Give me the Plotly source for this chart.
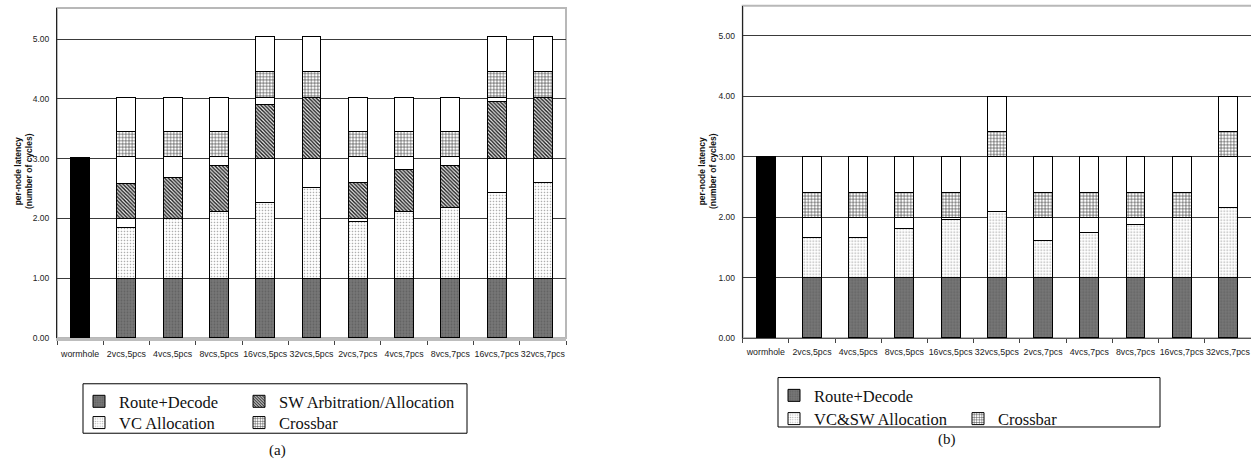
import plotly.graph_objects as go

W, H = 1251, 459

categories = ["wormhole", "2vcs,5pcs", "4vcs,5pcs", "8vcs,5pcs", "16vcs,5pcs", "32vcs,5pcs",
              "2vcs,7pcs", "4vcs,7pcs", "8vcs,7pcs", "16vcs,7pcs", "32vcs,7pcs"]

# ---- panel (a): stacked segment heights in cycles (bottom -> top) ----
a_wormhole = [3.02, None, None, None, None, None, None, None, None, None, None]
a_route    = [None, 1.00, 1.00, 1.00, 1.00, 1.00, 1.00, 1.00, 1.00, 1.00, 1.00]
a_vc       = [None, 0.85, 1.00, 1.11, 1.26, 1.51, 0.94, 1.11, 1.19, 1.44, 1.60]
a_idle1    = [None, 0.15, 0.00, 0.00, 0.74, 0.49, 0.06, 0.00, 0.00, 0.56, 0.40]
a_sw       = [None, 0.58, 0.69, 0.77, 0.91, 1.03, 0.60, 0.70, 0.69, 0.95, 1.03]
a_idle2    = [None, 0.45, 0.34, 0.15, 0.12, 0.00, 0.43, 0.22, 0.15, 0.08, 0.00]
a_xbar     = [None, 0.43, 0.43, 0.43, 0.43, 0.43, 0.43, 0.43, 0.43, 0.43, 0.43]
a_idle3    = [None, 0.57, 0.57, 0.57, 0.59, 0.59, 0.57, 0.57, 0.57, 0.59, 0.59]

# ---- panel (b) ----
b_wormhole = [3.00, None, None, None, None, None, None, None, None, None, None]
b_route    = [None, 1.00, 1.00, 1.00, 1.00, 1.00, 1.00, 1.00, 1.00, 1.00, 1.00]
b_vcsw     = [None, 0.67, 0.67, 0.81, 0.96, 1.09, 0.62, 0.74, 0.88, 1.00, 1.16]
b_idle1    = [None, 0.33, 0.33, 0.19, 0.04, 0.91, 0.38, 0.26, 0.12, 0.00, 0.84]
b_xbar     = [None, 0.41, 0.41, 0.41, 0.41, 0.42, 0.41, 0.41, 0.41, 0.41, 0.42]
b_idle2    = [None, 0.59, 0.59, 0.59, 0.59, 0.58, 0.59, 0.59, 0.59, 0.59, 0.58]

y_ticks = [0, 1, 2, 3, 4, 5]

SANS = "Arial, Liberation Sans, sans-serif"
SERIF = "Times New Roman, Liberation Serif, serif"

ROUTE = dict(color="#747474", pattern=dict(shape=".", bgcolor="#777777", fgcolor="#626262",
                                           size=3, solidity=0.3, fillmode="replace"))
VC = dict(color="white", pattern=dict(shape=".", bgcolor="white", fgcolor="#a8a8a8",
                                      size=3, solidity=0.22, fillmode="replace"))
SW = dict(color="#777", pattern=dict(shape="\\", bgcolor="#f0f0f0", fgcolor="#1a1a1a",
                                     size=2.6, solidity=0.55, fillmode="replace"))
XB = dict(color="white", pattern=dict(shape="+", bgcolor="white", fgcolor="#2a2a2a",
                                      size=3.2, solidity=0.3, fillmode="replace"))
IDLE = dict(color="white")
BLACK = dict(color="black")

fig = go.Figure()


def seg(vals, style, xa, ya, name, legend=None):
    m = dict(style)
    m["line"] = dict(color="black", width=1)
    fig.add_trace(go.Bar(
        x=categories, y=vals, xaxis=xa, yaxis=ya, name=name, marker=m,
        showlegend=legend is not None, legend=legend or "legend", hoverinfo="skip"))


# panel (a)
seg(a_wormhole, BLACK, "x", "y", "wormhole")
seg(a_route, ROUTE, "x", "y", "Route+Decode", "legend")
seg(a_vc, VC, "x", "y", "VC Allocation", "legend3")
seg(a_idle1, IDLE, "x", "y", "idle")
seg(a_sw, SW, "x", "y", "SW Arbitration/Allocation", "legend2")
seg(a_idle2, IDLE, "x", "y", "idle")
seg(a_xbar, XB, "x", "y", "Crossbar", "legend4")
seg(a_idle3, IDLE, "x", "y", "idle")

# panel (b)
seg(b_wormhole, BLACK, "x2", "y2", "wormhole")
seg(b_route, ROUTE, "x2", "y2", "Route+Decode", "legend5")
seg(b_vcsw, VC, "x2", "y2", "VC&SW Allocation", "legend6")
seg(b_idle1, IDLE, "x2", "y2", "idle")
seg(b_xbar, XB, "x2", "y2", "Crossbar", "legend7")
seg(b_idle2, IDLE, "x2", "y2", "idle")


def px(x):
    return x / W


def py(y):
    return 1 - y / H


tickfont = dict(family=SANS, size=8.5, color="#222")
xtickfont = dict(family=SANS, size=8.8, color="#222")

xcommon = dict(type="category", tickson="boundaries", ticks="outside", ticklen=4, tickangle=0,
               tickfont=xtickfont, showgrid=False, zeroline=False, fixedrange=True,
               ticklabelstandoff=5)
ycommon = dict(tickvals=y_ticks, tickformat=".2f", ticks="", tickfont=tickfont,
               showgrid=True, gridcolor="#3a3a3a", gridwidth=1, zeroline=False,
               showline=True, linecolor="#222", linewidth=1, ticklabelstandoff=5)

fig.update_layout(
    width=W, height=H, margin=dict(l=0, r=0, t=0, b=0),
    paper_bgcolor="white", plot_bgcolor="rgba(0,0,0,0)",
    barmode="stack", bargap=0.59, showlegend=True,
    xaxis=dict(xcommon, domain=[px(57), px(566)], anchor="y", showline=True,
               linecolor="#bdbdbd", linewidth=3, tickcolor="#444"),
    yaxis=dict(ycommon, domain=[py(341.7), py(8)], range=[0, 5.52], anchor="x"),
    xaxis2=dict(xcommon, domain=[px(742.7), 1.0], anchor="y2", showline=True,
                linecolor="#555", linewidth=1, tickcolor="#444"),
    yaxis2=dict(ycommon, domain=[py(341.7), py(5.7)], range=[0, 5.50], anchor="x2"),
    font=dict(family=SANS),
)

# plot-area frames
fig.add_shape(type="rect", xref="x domain", yref="y domain", x0=0, x1=1, y0=0, y1=1,
              line=dict(color="#b8b8b8", width=2), layer="below")
fig.add_shape(type="rect", xref="x2 domain", yref="y2 domain", x0=0, x1=1.01, y0=0, y1=1,
              line=dict(color="#b8b8b8", width=2), layer="below")

# legend frames
fig.add_shape(type="rect", xref="paper", yref="paper", x0=px(83), x1=px(467), y0=py(438), y1=py(388),
              line=dict(color="black", width=1))
fig.add_shape(type="rect", xref="paper", yref="paper", x0=px(778), x1=px(1160), y0=py(431.7), y1=py(381.7),
              line=dict(color="black", width=1))

legfont = dict(family=SERIF, size=16.5, color="#111")
leg_pos = {
    "legend": (79, 406), "legend2": (239, 406),
    "legend3": (79, 427.5), "legend4": (239, 427.5),
    "legend5": (774, 400), "legend6": (774, 423.5), "legend7": (958, 423.5),
}
for key, (lx, ly) in leg_pos.items():
    fig.update_layout({key: dict(x=px(lx), y=py(ly), xanchor="left", yanchor="middle",
                                 bgcolor="rgba(0,0,0,0)", borderwidth=0, font=legfont,
                                 orientation="v")})

# axis titles
ytitle = "<b>per-node latency<br>(number of cycles)</b>"
for xc in (23, 707):
    fig.add_annotation(x=px(xc), y=py(173), xref="paper", yref="paper", text=ytitle,
                       textangle=-90, showarrow=False, xanchor="center", yanchor="middle",
                       font=dict(family=SANS, size=8.5, color="#111"))

# panel captions
fig.add_annotation(x=px(277), y=py(455), xref="paper", yref="paper", text="(a)",
                   showarrow=False, xanchor="center", yanchor="middle",
                   font=dict(family=SERIF, size=15, color="#111"))
fig.add_annotation(x=px(947), y=py(444), xref="paper", yref="paper", text="(b)",
                   showarrow=False, xanchor="center", yanchor="middle",
                   font=dict(family=SERIF, size=15, color="#111"))

fig.write_html("out.html")
